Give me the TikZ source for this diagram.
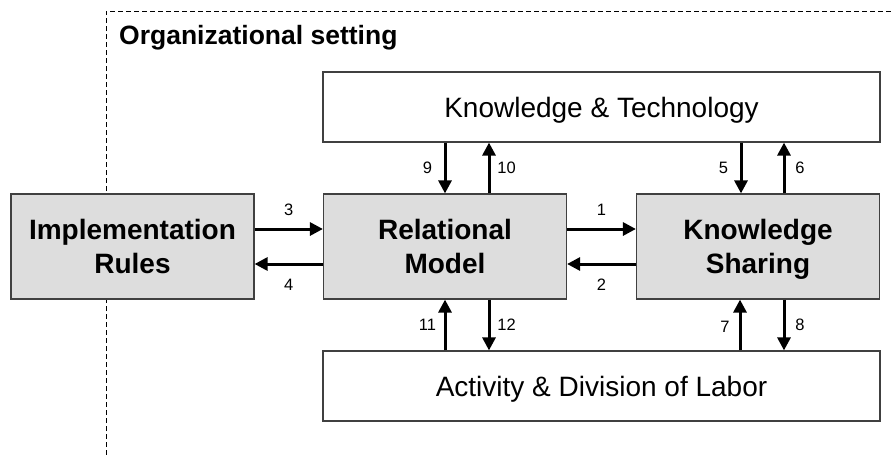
\documentclass[tikz,border=0pt]{standalone}
\usepackage{fontspec}
\setmainfont{Liberation Sans}
\usetikzlibrary{arrows.meta,calc}
\definecolor{boxfill}{HTML}{DDDDDD}
\definecolor{boxline}{HTML}{404040}
\newcommand\mytopstrut{\rule{0pt}{28pt}}
\newcommand\mybotstrut{\rule[-8pt]{0pt}{8pt}}
\begin{document}
\begin{tikzpicture}[x=1pt,y=-1pt,
  box/.style={draw=boxline,line width=1.2pt,rectangle,inner sep=0pt,align=center},
  greybox/.style={box,fill=boxfill,minimum width=243pt,minimum height=105pt,
     font=\fontsize{28}{34}\selectfont\bfseries},
  whitebox/.style={box,fill=white,minimum width=557pt,minimum height=70pt,
     font=\fontsize{28}{34}\selectfont},
  arr/.style={line width=3pt,-{Triangle[length=13pt,width=13pt]}},
  lbl/.style={font=\fontsize{16.5}{18}\selectfont,inner sep=0pt}]
\useasboundingbox (0,0) rectangle (894,455);
\draw[dash pattern=on 5pt off 3pt,line width=1pt] (106,455) -- (106,11) -- (894,11);
\node[anchor=base west,inner sep=0pt,font=\fontsize{26.5}{30}\selectfont\bfseries] (title) at (119,44) {Organizational setting};

\node[greybox] (impl) at (132.5,246.5) {\mytopstrut Implementation\\Rules\mybotstrut};
\node[greybox] (rel) at (445,246.5) {\mytopstrut Relational\\Model\mybotstrut};
\node[greybox] (ks) at (758,246.5) {\mytopstrut Knowledge\\Sharing\mybotstrut};
\node[whitebox] (kt) at (601.5,107) {\mytopstrut Knowledge \& Technology\mybotstrut};
\node[whitebox] (adl) at (601.5,386) {\mytopstrut Activity \& Division of Labor\mybotstrut};

% horizontal arrows
\draw[arr] ($(impl.east)+(0,-17.5)$) -- node[lbl,yshift=19pt]{3} ($(rel.west)+(0,-17.5)$);
\draw[arr] ($(rel.west)+(0,17.5)$) -- node[lbl,yshift=-21pt]{4} ($(impl.east)+(0,17.5)$);
\draw[arr] ($(rel.east)+(0,-17.5)$) -- node[lbl,yshift=19pt]{1} ($(ks.west)+(0,-17.5)$);
\draw[arr] ($(ks.west)+(0,17.5)$) -- node[lbl,yshift=-21pt]{2} ($(rel.east)+(0,17.5)$);

% vertical arrows, relational model
\draw[arr] (rel.north |- kt.south) -- node[lbl,xshift=-17.5pt]{9} (rel.north);
\draw[arr] ($(rel.north)+(44,0)$) -- node[lbl,xshift=17.5pt]{10} ($(rel.north |- kt.south)+(44,0)$);
\draw[arr] (rel.south |- adl.north) -- node[lbl,xshift=-17.5pt]{11} (rel.south);
\draw[arr] ($(rel.south)+(44,0)$) -- node[lbl,xshift=17.5pt]{12} ($(rel.south |- adl.north)+(44,0)$);

% vertical arrows, knowledge sharing
\draw[arr] ($(ks.north |- kt.south)+(-17,0)$) -- node[lbl,xshift=-17.5pt]{5} ($(ks.north)+(-17,0)$);
\draw[arr] ($(ks.north)+(26,0)$) -- node[lbl,xshift=16pt]{6} ($(ks.north |- kt.south)+(26,0)$);
\draw[arr] ($(ks.south |- adl.north)+(-18,0)$) -- node[lbl,xshift=-15pt,yshift=-2pt]{7} ($(ks.south)+(-18,0)$);
\draw[arr] ($(ks.south)+(26,0)$) -- node[lbl,xshift=16pt]{8} ($(ks.south |- adl.north)+(26,0)$);
\end{tikzpicture}
\end{document}
